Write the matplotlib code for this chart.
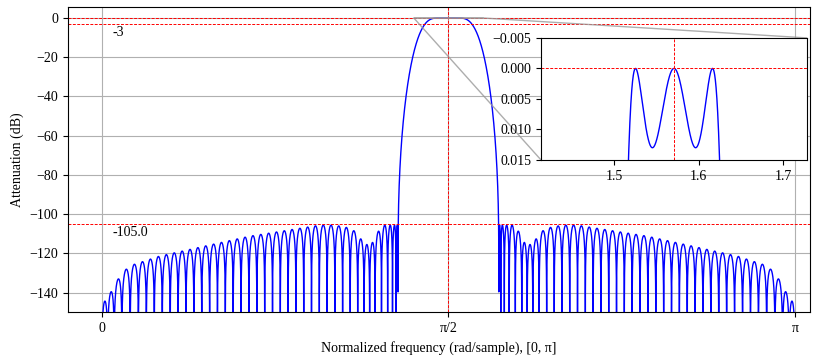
import numpy as np
import matplotlib
matplotlib.use('Agg')
import matplotlib.pyplot as plt

plt.rcParams['font.family'] = ['Liberation Serif', 'DejaVu Serif']
plt.rcParams['font.size'] = 10

# filter spec
numtaps = 181
centre = np.pi / 2
pass_half = 0.054      # passband half width around centre (rad)
ripple_db = 0.0139     # passband ripple, peak to peak
stop_db = -105.0       # stopband limit
ref_db = -3            # reference line

# stopband lobe envelope vs distance from centre (rad, dB)
env_dist = [0.222, 0.238, 0.273, 0.306, 0.339, 0.379, 0.414, 0.447, 0.515,
            0.583, 0.640, 0.900, 1.070, 1.310, 1.450, 1.517, 1.547]
env_db = [-105.0, -105.0, -105.0, -105.0, -113.6, -115.2, -108.9, -106.5, -105.0,
          -105.0, -106.0, -110.6, -114.8, -120.8, -125.9, -135.2, -143.7]

# ticks
xticks = [0, np.pi / 2, np.pi]
xticklabels = ['0', 'π/2', 'π']
yticks = [-140, -120, -100, -80, -60, -40, -20, 0]
ins_xticks = [1.5, 1.6, 1.7]
ins_yticks = [-0.005, 0.0, 0.005, 0.010, 0.015]

M = (numtaps - 1) // 2
k = np.arange(1, M + 1, 2)
grid = np.linspace(0, np.pi, 4096)
dist = np.abs(grid - centre)
dp = (10 ** (ripple_db / 20) - 1) / (10 ** (ripple_db / 20) + 1)


def lawson(stop_half, iters=150):
    '''
    Weighted minimax by Lawson reweighting, antisymmetric odd length
    (zeros at 0 and pi). Returns coefficients and the max error ratio.
    '''
    pas = dist <= pass_half
    stp = dist >= stop_half
    use = pas | stp
    B = np.sin(np.outer(grid[use], k))
    des = pas[use].astype(float)
    bound = np.where(pas[use], dp,
                     10 ** (np.interp(dist[use], env_dist, env_db) / 20))
    u = np.ones(use.sum())
    for _ in range(iters):
        sw = np.sqrt(u) / bound
        c = np.linalg.lstsq(B * sw[:, None], des * sw, rcond=None)[0]
        r = np.abs(B @ c - des) / bound
        u = u * r
        u = np.maximum(u / u.max(), 1e-12)
    return c, r.max()


# narrowest transition that still meets the bounds
lo, hi = 0.20, 0.30
for _ in range(12):
    mid = (lo + hi) / 2
    c, lam = lawson(mid)
    if lam > 1:
        lo = mid
    else:
        hi = mid
c, lam = lawson(hi, iters=600)

h = np.zeros(numtaps)
h[M - k] = c / 2
h[M + k] = -c / 2

H = np.fft.rfft(h, 2 ** 16)
freq = np.linspace(0, np.pi, len(H))
mag = np.maximum(np.abs(H), 1e-20)
db = 20 * np.log10(mag / mag.max())

fig = plt.figure(figsize=(8.19, 3.56), dpi=100)
ax = fig.add_axes([0.083, 0.1228, 0.906, 0.857])

red = dict(color='red', lw=0.7, linestyle=(0, (3, 1.5)))

ax.plot(freq, db, c='blue', lw=1)
ax.axhline(0, **red)
ax.axhline(ref_db, **red)
ax.axhline(stop_db, **red)
ax.axvline(centre, **red)
ax.text(0.05, ref_db - 1, str(ref_db), va='top')
ax.text(0.05, stop_db - 1, str(stop_db), va='top')

ax.set_xlim(-0.154, 3.21)
ax.set_ylim(-150, 5.5)
ax.set_xticks(xticks)
ax.set_xticklabels(xticklabels)
ax.set_yticks(yticks)
ax.grid(color='#b0b0b0', lw=0.8)
ax.set_xlabel('Normalized frequency (rad/sample), [0, π]')
ax.set_ylabel('Attenuation (dB)')

# zoom on the passband ripple
axins = ax.inset_axes([0.6375, 0.4993, 0.3585, 0.4])
axins.plot(freq, -db, c='blue', lw=1)
axins.axhline(0, **red)
axins.axvline(centre, **red)
axins.set_xlim(centre - np.pi / 20, centre + np.pi / 20)
axins.set_ylim(0.015, -0.005)
axins.set_xticks(ins_xticks)
axins.set_yticks(ins_yticks)
ax.indicate_inset_zoom(axins, edgecolor='0.6', alpha=0.8)

plt.savefig('out.png')
